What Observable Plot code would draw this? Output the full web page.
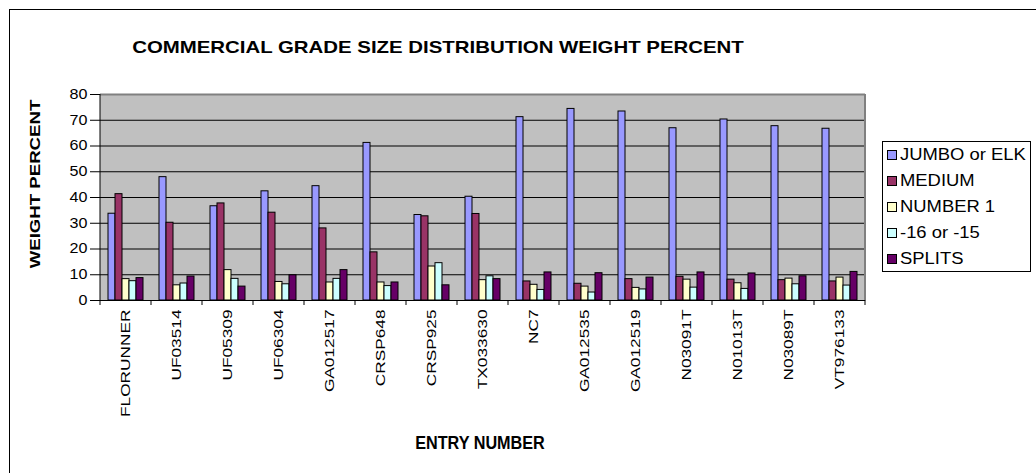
<!DOCTYPE html>
<html>
<head>
<meta charset="utf-8">
<script src="https://cdn.jsdelivr.net/npm/d3@7"></script>
<script src="https://cdn.jsdelivr.net/npm/@observablehq/plot@0.6"></script>
<style>
  html, body { margin: 0; padding: 0; background: #fff; }
  body { font-family: "Liberation Sans", Arial, sans-serif; color: #000; }
  #wrap { position: relative; width: 1036px; height: 473px; overflow: hidden; }
  #border { position: absolute; left: 9px; top: 9px; width: 1200px; height: 700px; border: 1px solid #000; box-sizing: border-box; }
  .txt { position: absolute; white-space: nowrap; line-height: 1; }
  #title { left: 438px; top: 47px; font-weight: bold; font-size: 17px; transform: translate(-50%, -50%) scaleX(1.2); }
  #ylabel { left: 35px; top: 184px; font-weight: bold; font-size: 14px; transform: translate(-50%, -50%) rotate(-90deg) scaleX(1.33); }
  #xlabel { left: 480px; top: 443px; font-weight: bold; font-size: 18px; transform: translate(-50%, -50%) scaleX(0.9); }
  #legend { position: absolute; left: 882px; top: 141px; width: 149px; height: 131px; border: 1px solid #000; box-sizing: border-box; background: #fff; }
  .lrow { position: absolute; left: 4px; height: 16px; display: flex; align-items: center; }
  .sw { width: 8px; height: 8px; border: 1px solid #000; }
  .lt { font-size: 16px; margin-left: 3px; transform: scaleX(1.15); transform-origin: left center; white-space: nowrap; }
  svg { position: absolute; left: 0; top: 0; }
</style>
</head>
<body>
<div id="wrap">
  <div id="border"></div>
  <div id="title" class="txt">COMMERCIAL GRADE SIZE DISTRIBUTION WEIGHT PERCENT</div>
  <div id="ylabel" class="txt">WEIGHT PERCENT</div>
  <div id="xlabel" class="txt">ENTRY NUMBER</div>
  <div id="legend"></div>
</div>
<script>
const entries = ["FLORUNNER","UF03514","UF05309","UF06304","GA012517","CRSP648","CRSP925","TX033630","NC7","GA012535","GA012519","N03091T","N01013T","N03089T","VT976133"];
const series = ["JUMBO or ELK","MEDIUM","NUMBER 1","-16 or -15","SPLITS"];
const jumbo   = [33.7,47.9,36.6,42.4,44.4,61.2,33.2,40.3,71.2,74.4,73.4,66.9,70.3,67.7,66.7];
const medium  = [41.3,30.2,37.7,34.1,28.0,18.7,32.7,33.6,7.4,6.5,8.3,9.2,8.1,7.9,7.4];
const number1 = [8.3,5.9,11.8,7.2,7.0,7.0,13.2,7.9,6.1,5.4,4.9,8.1,6.7,8.5,8.9];
const minus16 = [7.5,6.6,8.4,6.3,8.4,5.6,14.5,9.4,4.1,3.1,4.3,5.0,4.5,6.3,5.8];
const splits  = [8.7,9.3,5.4,9.8,11.8,7.0,5.9,8.3,10.9,10.6,8.9,10.9,10.5,9.4,11.1];
const colors = ["#9999FF","#993366","#FFFFCC","#CCFFFF","#660066"];
const yTicks = [0,10,20,30,40,50,60,70,80];

const seriesValues = [jumbo, medium, number1, minus16, splits];
const rows = [];
entries.forEach((e, i) => series.forEach((s, j) => rows.push({entry: e, series: s, value: seriesValues[j][i]})));

const svg = Plot.plot({
  width: 1036,
  height: 473,
  marginTop: 94,
  marginBottom: 173,
  marginLeft: 97,
  marginRight: 168,
  style: {fontFamily: "'Liberation Sans', Arial, sans-serif", fontSize: "13px", background: "transparent", color: "#000"},
  fx: {domain: entries, padding: 0, label: null},
  x: {domain: series, paddingInner: 0, paddingOuter: 0.81, axis: null},
  y: {domain: [0, 80], label: null},
  color: {domain: series, range: colors},
  marks: [
    Plot.frame({fill: "#C0C0C0", stroke: null, inset: -0.5}),
    Plot.ruleY(yTicks.slice(1, -1), {stroke: "#000", strokeWidth: 1}),
    Plot.ruleY([80], {stroke: "#808080", strokeWidth: 2}),
    Plot.barY(rows, {fx: "entry", x: "series", y: "value", fill: "series", stroke: "#000", strokeWidth: 1}),
    Plot.ruleY([0], {stroke: "#000", strokeWidth: 1}),
    Plot.axisY({ticks: yTicks, tickSize: 10, tickPadding: 3, label: null, fontSize: 14}),
    Plot.axisFx({anchor: "bottom", tickRotate: -90, tickSize: 0, tickPadding: 9, label: null, fontSize: 13})
  ]
});
document.getElementById("wrap").appendChild(svg);

// axis lines and category boundary ticks, positioned from the plot's own scales
const fxS = Plot.scale({x: svg.scale("fx")});
const yS = Plot.scale({y: svg.scale("y")});
const left = fxS.apply(entries[0]);
const right = fxS.apply(entries[entries.length - 1]) + fxS.bandwidth;
const y0 = yS.apply(0), yTop = yS.apply(80);
const g = d3.select(svg).append("g");
g.append("line").attr("x1", right).attr("x2", right).attr("y1", yTop).attr("y2", y0).attr("stroke", "#808080").attr("stroke-width", 2);
g.append("line").attr("x1", left).attr("x2", left).attr("y1", yTop).attr("y2", y0).attr("stroke", "#000");
const bounds = entries.map(e => fxS.apply(e)).concat([right]);
g.selectAll(".bt").data(bounds).join("line")
  .attr("x1", d => d).attr("x2", d => d).attr("y1", y0).attr("y2", y0 + 5).attr("stroke", "#000");

// stretch tick label glyphs along the baseline like the reference
d3.select(svg).selectAll("text").each(function() {
  const p = this.closest("[aria-label]");
  const lab = p ? p.getAttribute("aria-label") : "";
  let k = null;
  if (lab.startsWith("fx-axis")) k = 1.33;
  else if (lab.startsWith("y-axis")) k = 1.15;
  if (k) this.setAttribute("transform", (this.getAttribute("transform") || "") + ` scale(${k},1)`);
});

// legend built from the series arrays
const legend = d3.select("#legend");
series.forEach((s, i) => {
  const r = legend.append("div").attr("class", "lrow").style("top", (5 + i * 26) + "px");
  r.append("div").attr("class", "sw").style("background", colors[i]);
  r.append("div").attr("class", "lt").text(s);
});
</script>
</body>
</html>
